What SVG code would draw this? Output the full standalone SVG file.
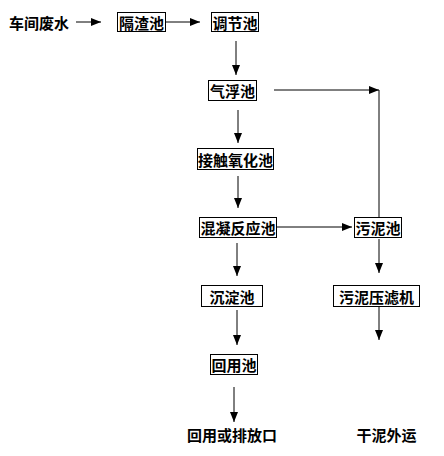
<svg xmlns="http://www.w3.org/2000/svg" width="444" height="456" viewBox="0 0 444 456">
<style>
.box{fill:#fff;stroke:#000;stroke-width:1}
.t{font-family:"Noto Sans CJK SC","Liberation Sans",sans-serif;font-size:15px;font-weight:bold;fill:#000;text-anchor:middle;dominant-baseline:central}
.c{stroke:#000;stroke-width:1;fill:none}
</style>
<defs>
<marker id="ah" markerWidth="10" markerHeight="8" refX="10" refY="4" orient="auto" markerUnits="userSpaceOnUse">
<path d="M0,0 L10,4 L0,8 Z" fill="#000"/>
</marker>
</defs>
<rect width="444" height="456" fill="#fff"/>
<g id="connectors">
<line class="c" x1="76" y1="22" x2="101" y2="22" marker-end="url(#ah)"/>
<line class="c" x1="166" y1="22" x2="200" y2="22" marker-end="url(#ah)"/>
<line class="c" x1="236" y1="41" x2="236" y2="75" marker-end="url(#ah)"/>
<line class="c" x1="274" y1="90" x2="379" y2="90" marker-end="url(#ah)"/>
<line class="c" x1="379" y1="90" x2="379" y2="217"/>
<line class="c" x1="238" y1="110" x2="238" y2="143" marker-end="url(#ah)"/>
<line class="c" x1="238" y1="176" x2="238" y2="208" marker-end="url(#ah)"/>
<line class="c" x1="277" y1="227" x2="352" y2="227" marker-end="url(#ah)"/>
<line class="c" x1="237" y1="243" x2="237" y2="276" marker-end="url(#ah)"/>
<line class="c" x1="379" y1="239" x2="379" y2="273" marker-end="url(#ah)"/>
<line class="c" x1="237" y1="310" x2="237" y2="345" marker-end="url(#ah)"/>
<line class="c" x1="379" y1="307" x2="379" y2="340" marker-end="url(#ah)"/>
<line class="c" x1="234" y1="387" x2="234" y2="422" marker-end="url(#ah)"/>
</g>
<g id="n_src"><text class="t" x="39" y="22">车间废水</text></g>
<g id="n_gezha"><rect class="box" x="117.5" y="12.5" width="48" height="19"/><text class="t" x="141.5" y="22">隔渣池</text></g>
<g id="n_tiaojie"><rect class="box" x="211.5" y="12.5" width="47" height="19"/><text class="t" x="235" y="22">调节池</text></g>
<g id="n_qifu"><rect class="box" x="208.5" y="80.5" width="48" height="20"/><text class="t" x="232.5" y="90.5">气浮池</text></g>
<g id="n_jiechu"><rect class="box" x="197.5" y="148.5" width="76" height="21"/><text class="t" x="235.5" y="159">接触氧化池</text></g>
<g id="n_hunning"><rect class="box" x="199.5" y="217.5" width="77" height="20"/><text class="t" x="238" y="227.5">混凝反应池</text></g>
<g id="n_wuni"><rect class="box" x="354.5" y="217.5" width="47" height="20"/><text class="t" x="378" y="227.5">污泥池</text></g>
<g id="n_chendian"><rect class="box" x="201.5" y="285.5" width="61" height="21"/><text class="t" x="232" y="296">沉淀池</text></g>
<g id="n_yalvji"><rect class="box" x="333.5" y="285.5" width="86" height="21"/><text class="t" x="376.5" y="296">污泥压滤机</text></g>
<g id="n_huiyong"><rect class="box" x="210.5" y="354.5" width="47" height="20"/><text class="t" x="234" y="364.5">回用池</text></g>
<g id="n_out"><text class="t" x="232" y="434">回用或排放口</text></g>
<g id="n_gani"><text class="t" x="386.5" y="434">干泥外运</text></g>
</svg>
